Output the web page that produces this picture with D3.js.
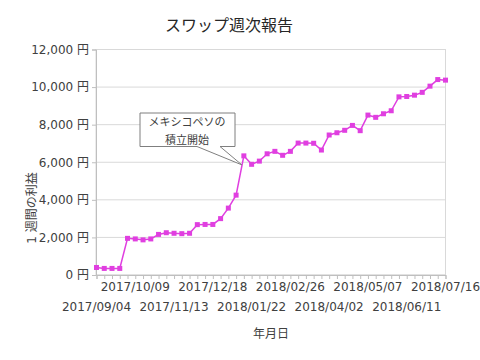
<!DOCTYPE html>
<html>
<head>
<meta charset="utf-8">
<script src="https://cdn.jsdelivr.net/npm/d3@7"></script>
<style>
  html, body { margin: 0; padding: 0; background: #fff; }
  svg { display: block; }
  text { font-family: "DejaVu Sans", "Noto Sans CJK JP", sans-serif; }
</style>
</head>
<body>
<svg id="chart" width="480" height="360"></svg>
<script>
const title = "スワップ週次報告";
const yTitle = "1 週間の利益";
const xTitle = "年月日";
const noteLines = ["メキシコペソの", "積立開始"];
const noteIndex = 19;

const dates = [
  "2017/09/04","2017/09/11","2017/09/18","2017/09/25","2017/10/02","2017/10/09","2017/10/16","2017/10/23","2017/10/30","2017/11/06",
  "2017/11/13","2017/11/20","2017/11/27","2017/12/04","2017/12/11","2017/12/18","2017/12/25","2018/01/01","2018/01/08","2018/01/15",
  "2018/01/22","2018/01/29","2018/02/05","2018/02/12","2018/02/19","2018/02/26","2018/03/05","2018/03/12","2018/03/19","2018/03/26",
  "2018/04/02","2018/04/09","2018/04/16","2018/04/23","2018/04/30","2018/05/07","2018/05/14","2018/05/21","2018/05/28","2018/06/04",
  "2018/06/11","2018/06/18","2018/06/25","2018/07/02","2018/07/09","2018/07/16"
];
const profits = [
  400,350,350,350,1950,1920,1870,1920,2160,2250,
  2220,2200,2220,2680,2690,2690,3000,3560,4250,6340,
  5890,6060,6450,6580,6370,6580,7020,7020,7010,6650,
  7450,7570,7700,7960,7680,8510,8390,8580,8740,9480,
  9500,9570,9720,10050,10400,10370
];
const yTicks = [0, 2000, 4000, 6000, 8000, 10000, 12000];
const labelDates = ["2017/09/04","2017/10/09","2017/11/13","2017/12/18","2018/01/22","2018/02/26","2018/04/02","2018/05/07","2018/06/11","2018/07/16"];

const svg = d3.select("#chart");
const pLeft = 96, pRight = 445.5, pTop = 49.5, pBottom = 275;
const lineColor = "#e03fe0";
const textColor = "#404040";
const gridColor = "#d9d9d9";

const x = d3.scalePoint().domain(dates).range([pLeft + 0.5, pRight]);
const y = d3.scaleLinear().domain([0, 12000]).range([pBottom, pTop]);

// plot frame
svg.append("rect")
  .attr("x", pLeft).attr("y", pTop)
  .attr("width", pRight - pLeft).attr("height", pBottom - pTop)
  .attr("fill", "none").attr("stroke", gridColor).attr("stroke-width", 1);

// gridlines
svg.append("g").selectAll("line").data(yTicks).join("line")
  .attr("x1", pLeft).attr("x2", pRight)
  .attr("y1", d => y(d)).attr("y2", d => y(d))
  .attr("stroke", gridColor).attr("stroke-width", 1);

// y axis
const yAxis = d3.axisLeft(y).tickValues(yTicks).tickSize(4).tickPadding(3)
  .tickFormat(d => d3.format(",")(d) + " 円");
const gy = svg.append("g").attr("transform", `translate(${pLeft},0)`).call(yAxis);
gy.select(".domain").attr("stroke", "#bfbfbf");
gy.selectAll(".tick line").attr("stroke", "#bfbfbf");
gy.selectAll(".tick text").attr("fill", textColor).style("font-size", "12px")
  .style("font-family", "'DejaVu Sans', 'Noto Sans CJK JP', sans-serif");

// x axis
const xAxis = d3.axisBottom(x).tickSize(4).tickFormat(() => "");
const gx = svg.append("g").attr("transform", `translate(0,${pBottom})`).call(xAxis);
gx.select(".domain").attr("stroke", "#bfbfbf");
gx.selectAll(".tick line").attr("stroke", "#bfbfbf");

// x labels, staggered
svg.append("g").selectAll("text").data(labelDates).join("text")
  .attr("x", d => x(d))
  .attr("y", (d, i) => i % 2 === 1 ? 291 : 311)
  .attr("text-anchor", "middle")
  .attr("fill", textColor)
  .style("font-size", "12px")
  .text(d => d);

// line
const line = d3.line().x((d, i) => x(dates[i])).y(d => y(d));
svg.append("path").datum(profits)
  .attr("d", line).attr("fill", "none")
  .attr("stroke", lineColor).attr("stroke-width", 1.5);

svg.append("g").selectAll("rect").data(profits).join("rect")
  .attr("x", (d, i) => x(dates[i]) - 2.5)
  .attr("y", d => y(d) - 2.5)
  .attr("width", 5).attr("height", 5)
  .attr("fill", lineColor);

// callout
const tipX = x(dates[noteIndex]) - 2, tipY = y(profits[noteIndex]) + 9;
const bx0 = 140, bx1 = 235, by0 = 113, by1 = 146.5;
const callout = d3.path();
callout.moveTo(bx0, by0);
callout.lineTo(bx1, by0);
callout.lineTo(bx1, by1);
callout.lineTo(220, by1);
callout.lineTo(tipX, tipY);
callout.lineTo(197, by1);
callout.lineTo(bx0, by1);
callout.closePath();
svg.append("path").attr("d", callout.toString())
  .attr("fill", "#fff").attr("stroke", "#7f7f7f").attr("stroke-width", 1);
svg.append("g").selectAll("text").data(noteLines).join("text")
  .attr("x", 187)
  .attr("y", (d, i) => 126 + i * 17.5)
  .attr("text-anchor", "middle")
  .attr("fill", textColor)
  .style("font-size", "11px")
  .text(d => d);

// titles
svg.append("text")
  .attr("x", 229).attr("y", 31)
  .attr("text-anchor", "middle")
  .attr("fill", "#262626")
  .style("font-size", "16px")
  .text(title);

svg.append("text")
  .attr("x", 271).attr("y", 338)
  .attr("text-anchor", "middle")
  .attr("fill", textColor)
  .style("font-size", "12px")
  .text(xTitle);

svg.append("text")
  .attr("transform", "translate(36,208) rotate(-90)")
  .attr("text-anchor", "middle")
  .attr("fill", textColor)
  .style("font-size", "12px")
  .text(yTitle);
</script>
</body>
</html>
